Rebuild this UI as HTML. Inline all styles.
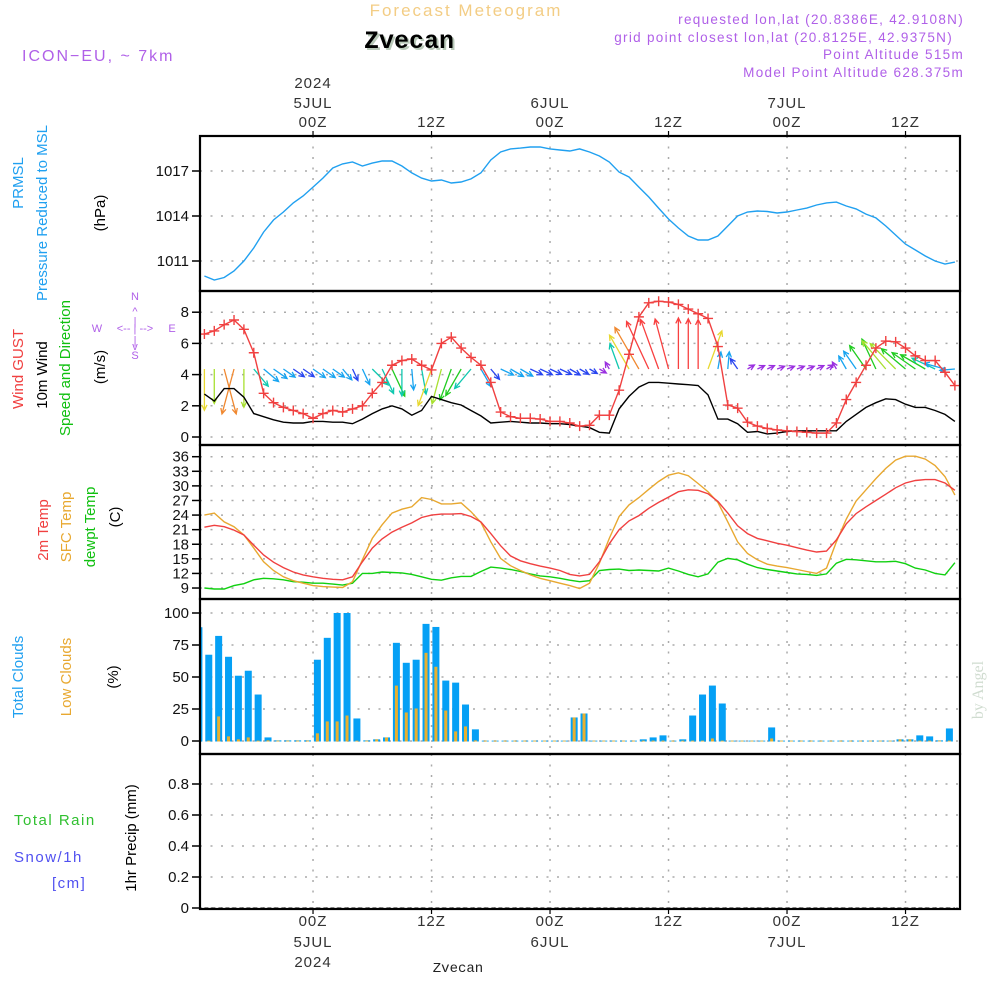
<!DOCTYPE html>
<html><head><meta charset="utf-8"><style>
html,body{margin:0;padding:0;background:#fff;}
svg{display:block;font-family:"Liberation Sans",sans-serif;}
.tk{font-size:15px;fill:#111;text-anchor:end;}
.tl{font-size:15px;fill:#333;text-anchor:middle;letter-spacing:1px;}
.mono{font-family:"Liberation Mono",monospace;}
.serif{font-family:"Liberation Serif",serif;}
</style></head><body>
<svg id="chart" width="1000" height="1000" viewBox="0 0 1000 1000" xmlns="http://www.w3.org/2000/svg">
<defs>
<clipPath id="cp1"><rect x="200" y="136" width="760" height="155"/></clipPath>
<clipPath id="cp2"><rect x="200" y="291" width="760" height="154"/></clipPath>
<clipPath id="cp3"><rect x="200" y="445" width="760" height="154"/></clipPath>
<clipPath id="cp4"><rect x="200" y="599" width="760" height="155"/></clipPath>
</defs>
<text x="466" y="16" font-size="17" fill="#f3cd85" text-anchor="middle" letter-spacing="2">Forecast Meteogram</text>
<text class="mono" x="411" y="50" font-size="25" font-weight="bold" fill="#b9c9b9" text-anchor="middle">Zvecan</text>
<text class="mono" x="409" y="48" font-size="25" font-weight="bold" fill="#000" text-anchor="middle">Zvecan</text>
<text x="22" y="61" font-size="16" fill="#b060e8" letter-spacing="2">ICON−EU, ~ 7km</text>
<g font-size="13.5" fill="#b060e8" text-anchor="end" letter-spacing="1.3">
<text x="964" y="24">requested lon,lat (20.8386E, 42.9108N)</text>
<text x="953" y="42">grid point closest lon,lat (20.8125E, 42.9375N)</text>
<text x="964" y="59">Point Altitude 515m</text>
<text x="964" y="77">Model Point Altitude 628.375m</text>
</g>
<g font-size="15">
<text transform="translate(23,183) rotate(-90)" fill="#20a0f0" text-anchor="middle">PRMSL</text>
<text transform="translate(47,213) rotate(-90)" fill="#20a0f0" text-anchor="middle">Pressure Reduced to MSL</text>
<text transform="translate(105,213) rotate(-90)" fill="#000" text-anchor="middle">(hPa)</text>
<text transform="translate(23,369) rotate(-90)" fill="#f04040" text-anchor="middle">Wind GUST</text>
<text transform="translate(47,375) rotate(-90)" fill="#000" text-anchor="middle">10m Wind</text>
<text transform="translate(70,368) rotate(-90)" fill="#10c010" text-anchor="middle">Speed and Direction</text>
<text transform="translate(105,367) rotate(-90)" fill="#000" text-anchor="middle">(m/s)</text>
<text transform="translate(48,530) rotate(-90)" fill="#f04040" text-anchor="middle">2m Temp</text>
<text transform="translate(71,527) rotate(-90)" fill="#e8a830" text-anchor="middle">SFC Temp</text>
<text transform="translate(95,527) rotate(-90)" fill="#10c010" text-anchor="middle">dewpt Temp</text>
<text transform="translate(120,517) rotate(-90)" fill="#000" text-anchor="middle">(C)</text>
<text transform="translate(23,677) rotate(-90)" fill="#20a0f0" text-anchor="middle">Total Clouds</text>
<text transform="translate(71,677) rotate(-90)" fill="#e8a830" text-anchor="middle">Low Clouds</text>
<text transform="translate(118,677) rotate(-90)" fill="#000" text-anchor="middle">(%)</text>
<text transform="translate(136,838) rotate(-90)" fill="#000" text-anchor="middle">1hr Precip (mm)</text>
<text x="14" y="825" fill="#30c030" letter-spacing="1.5">Total   Rain</text>
<text x="14" y="862" fill="#5050f0" letter-spacing="1.5">Snow/1h</text>
<text x="52" y="888" fill="#5050f0" letter-spacing="1.5">[cm]</text>
</g>
<g fill="#b060e8" font-size="11" text-anchor="middle">
<text x="135" y="300">N</text><text x="135" y="315">^</text><text x="135" y="325">|</text>
<text x="97" y="332">W</text><text x="135" y="332">&lt;-- | --&gt;</text><text x="172" y="332">E</text>
<text x="135" y="344">|</text><text x="135" y="350">v</text><text x="135" y="359">S</text>
</g>
<text class="serif" transform="translate(983,690) rotate(-90)" font-size="16" fill="#d0dcd0" text-anchor="middle">by Angel</text>
<text class="mono" x="458" y="972" font-size="14" fill="#222" text-anchor="middle">Zvecan</text>
<g id="g"></g>
</svg>
<script>
const pressure=[1010.0,1009.73,1009.9,1010.33,1011.0,1011.87,1012.93,1013.73,1014.27,1014.87,1015.33,1015.93,1016.53,1017.2,1017.47,1017.6,1017.33,1017.53,1017.67,1017.67,1017.33,1016.87,1016.53,1016.33,1016.4,1016.2,1016.27,1016.47,1016.87,1017.73,1018.27,1018.47,1018.53,1018.6,1018.6,1018.47,1018.4,1018.33,1018.47,1018.27,1018.0,1017.6,1016.93,1016.6,1015.93,1015.27,1014.53,1013.8,1013.2,1012.67,1012.4,1012.4,1012.67,1013.33,1014.0,1014.27,1014.33,1014.3,1014.2,1014.27,1014.4,1014.53,1014.73,1014.87,1014.93,1014.67,1014.47,1014.13,1013.87,1013.33,1012.73,1012.13,1011.73,1011.33,1011.0,1010.8,1010.93];
const gust=[6.6,6.8,7.2,7.5,6.9,5.4,2.8,2.2,1.9,1.7,1.5,1.2,1.5,1.7,1.6,1.8,2.0,2.8,3.5,4.6,4.9,5.0,4.6,4.3,6.0,6.4,5.7,5.1,4.6,3.5,1.6,1.3,1.2,1.2,1.15,1.0,1.0,0.9,0.7,0.75,1.4,1.4,3.0,5.3,7.7,8.6,8.7,8.65,8.5,8.2,7.9,7.6,5.8,2.05,1.85,0.95,0.7,0.55,0.45,0.4,0.35,0.3,0.25,0.25,0.9,2.4,3.5,4.6,5.7,6.15,6.1,5.7,5.2,4.9,4.9,4.15,3.3];
const windSpeed=[2.75,2.3,3.1,3.1,2.55,1.5,1.3,1.1,0.95,0.9,0.9,1.0,1.0,0.95,0.95,0.85,1.15,1.5,1.8,2.0,1.8,1.4,1.7,2.6,2.4,2.2,2.05,1.7,1.35,0.9,0.95,1.0,0.95,0.9,0.9,0.85,0.85,0.8,0.7,0.6,0.3,0.25,1.8,2.6,3.2,3.5,3.5,3.45,3.4,3.35,3.3,2.7,1.15,1.15,0.85,0.3,0.35,0.2,0.25,0.35,0.4,0.4,0.4,0.4,0.4,1.0,1.45,1.9,2.2,2.45,2.4,2.1,1.9,1.9,1.7,1.45,1.0];
const windDir=[0,0,345,15,0,320,310,305,305,305,305,305,305,305,320,335,335,315,335,335,0,355,350,20,15,20,30,40,330,320,295,300,300,295,295,295,295,300,300,300,300,150,160,150,150,155,160,165,180,180,180,200,190,185,145,240,245,245,250,250,250,250,245,240,150,150,145,145,155,140,135,130,125,120,115,105,85];
const temp2m=[21.5,21.9,21.6,20.9,19.9,17.8,15.8,14.3,13.2,12.3,11.7,11.3,11.0,10.8,10.7,11.3,14.4,17.2,19.1,20.5,21.5,22.4,23.5,24.0,24.2,24.2,24.3,23.7,22.6,20.2,17.7,15.6,14.6,14.0,13.5,13.1,12.6,11.8,11.5,11.8,14.4,18.1,21.0,22.8,23.9,25.4,26.6,27.7,28.8,29.2,29.1,28.4,26.8,24.4,21.8,20.2,19.2,18.7,18.2,17.8,17.3,16.8,16.4,16.6,18.9,22.2,24.3,25.7,27.0,28.3,29.6,30.6,31.1,31.3,31.3,30.6,29.1];
const tempSfc=[24.0,24.4,22.6,21.6,19.9,17.2,14.4,12.6,11.3,10.5,10.0,9.5,9.3,9.2,9.1,10.3,14.8,19.2,22.0,24.4,25.2,25.7,27.6,27.2,26.3,26.3,26.5,24.7,22.5,18.5,15.1,13.6,12.6,11.7,11.0,10.5,10.0,9.5,8.9,10.0,14.1,19.2,23.7,26.1,27.6,29.3,30.9,32.2,32.7,32.1,30.5,28.8,26.6,22.6,18.5,16.1,14.8,13.9,13.5,13.2,12.8,12.4,12.0,13.1,18.5,23.2,26.9,29.2,31.5,33.6,35.3,36.1,36.1,35.5,34.2,31.9,28.1];
const dewpt=[9.0,8.8,8.8,9.5,9.9,10.7,11.0,10.9,10.7,10.3,10.2,10.0,10.0,9.8,9.6,10.0,12.0,12.0,12.3,12.2,12.1,11.8,11.3,10.8,10.6,11.1,11.4,11.4,12.4,13.3,13.1,12.8,12.4,11.9,11.5,11.3,11.0,10.6,10.3,10.5,12.6,12.8,12.9,12.6,12.7,12.6,12.5,13.1,12.5,11.8,11.3,11.9,14.3,15.1,14.8,13.9,13.2,12.8,12.5,12.2,11.9,11.8,11.6,11.9,14.1,14.9,14.8,14.6,14.4,14.4,14.5,14.0,13.1,12.7,12.0,11.7,14.2];
const totalClouds=[88.9,67.4,82.1,65.8,51,54.9,36.3,2.8,0.5,0.5,0.5,0.5,63.5,80.6,100,100,17.6,0.5,1.3,2.8,76.7,61.1,63.5,91.5,89.1,47.2,45.6,28.5,9.1,0.3,0.3,0.3,0.3,0.3,0.3,0.3,0.3,0.3,18.4,21.5,0.3,0.3,0.3,0.3,0.3,1.3,2.8,4.4,0.3,1.3,19.9,36.3,43.3,29.3,0.3,0.3,0.3,0.3,10.6,0.3,0.3,0.3,0.3,0.3,0.3,0.3,0.3,0.3,0.3,0.3,0.3,1.3,1.3,4.4,3.6,0.5,9.8];
const lowClouds=[16.8,0.3,19.2,3.6,1.3,2.8,0.3,0.5,0.3,0.3,0.3,0.3,6,15.3,15.3,19.9,0.3,0.3,1.3,2.8,43.3,22.3,25.4,68.9,58,23.8,7.5,11.4,0.5,0.3,0.3,0.3,0.3,0.3,0.3,0.3,0.3,0.3,18.4,21.5,0.3,0.3,0.3,0.3,0.3,0.3,0.3,0.3,0.3,0.3,0.3,0.3,2,0.3,0.3,0.3,0.3,0.3,2,0.3,0.3,0.3,0.3,0.3,0.3,0.3,0.3,0.3,0.3,0.3,0.3,1.3,1.3,0.3,0.3,0.3,0.3];
const precip=[0,0,0,0,0,0,0,0,0,0,0,0,0,0,0,0,0,0,0,0,0,0,0,0,0,0,0,0,0,0,0,0,0,0,0,0,0,0,0,0,0,0,0,0,0,0,0,0,0,0,0,0,0,0,0,0,0,0,0,0,0,0,0,0,0,0,0,0,0,0,0,0,0,0,0,0,0];
const pressTicks=[1011,1014,1017];
const windTicks=[0,2,4,6,8];
const tempTicks=[9,12,15,18,21,24,27,30,33,36];
const cloudTicks=[0,25,50,75,100];
const precipTicks=[0,0.2,0.4,0.6,0.8];
const timeHours=[11,23,35,47,59,71];
const timeTop=[["2024","5JUL","00Z"],["","","12Z"],["","6JUL","00Z"],["","","12Z"],["","7JUL","00Z"],["","","12Z"]];
const timeBot=[["00Z","5JUL","2024"],["12Z","",""],["00Z","6JUL",""],["12Z","",""],["00Z","7JUL",""],["12Z","",""]];

const NS="http://www.w3.org/2000/svg";
const G=document.getElementById('g');
function mk(tag,attrs,parent){const e=document.createElementNS(NS,tag);for(const k in attrs)e.setAttribute(k,attrs[k]);(parent||G).appendChild(e);return e;}
const X=h=>204.4+9.875*h;
const yP=v=>171+(1017-v)*15;
const yW=v=>437-v*15.6;
const yT=v=>456.7+(36-v)*4.864;
const yC=v=>741-v*1.28;
const yR=v=>908-v*155;
const panels=[[136,291,pressTicks,yP,'pressure'],[291,445,windTicks,yW,'wind'],[445,599,tempTicks,yT,'temp'],[599,754,cloudTicks,yC,'cloud'],[754,909,precipTicks,yR,'precip']];

panels.forEach(p=>{
  const [top,bot,ticks,f,nm]=p;
  ticks.forEach(t=>{
    const y=f(t);
    const gl=mk('line',{x1:200,x2:960,y1:y,y2:y,stroke:'#aaa','stroke-width':1.5,'stroke-dasharray':'2,8.5'});
    
    
    const tk=mk('line',{x1:192,x2:200,y1:y,y2:y,stroke:'#000','stroke-width':1.5});
    
    
    const tx=mk('text',{x:189,y:y+5,'class':'tk'});
    tx.textContent=(nm==='precip'&&t>0)?t.toFixed(1):String(t);
    
    
  });
  timeHours.forEach(h=>{
    const vl=mk('line',{x1:X(h),x2:X(h),y1:top,y2:bot,stroke:'#aaa','stroke-width':1.5,'stroke-dasharray':'2,8.5'});
    
    
  });
});
function line(arr,f,color,nm,clip,w){
  const d=arr.map((v,i)=>(i?'L':'M')+X(i).toFixed(1)+','+f(v).toFixed(1)).join('');
  const p=mk('path',{d:d,fill:'none',stroke:color,'stroke-width':w||1.4,'clip-path':'url(#'+clip+')'});
  
  
  return p;
}
line(pressure,yP,'#20a0f0','pressure-line','cp1');
function spdColor(s){
  if(s<0.6)return '#9a30e0';if(s<0.95)return '#2845f0';if(s<1.5)return '#18a4f0';if(s<1.9)return '#10c8b0';
  if(s<2.3)return '#20cc20';if(s<2.6)return '#a8e030';if(s<3.0)return '#e8d830';if(s<3.3)return '#f08830';return '#f84040';}
windSpeed.forEach((s,i)=>{
  const a=windDir[i]*Math.PI/180;
  const L=Math.max(s*15,8);
  const x0=X(i),y0=369;
  const dx=-Math.sin(a)*L, dy=Math.cos(a)*L;
  const x1=x0+dx,y1=y0+dy;
  const c=spdColor(s);
  const ang=Math.atan2(dy,dx);
  const hl=6;
  const d='M'+x0+','+y0+'L'+x1+','+y1+'M'+(x1-hl*Math.cos(ang-0.45))+','+(y1-hl*Math.sin(ang-0.45))+'L'+x1+','+y1+'L'+(x1-hl*Math.cos(ang+0.45))+','+(y1-hl*Math.sin(ang+0.45));
  const p=mk('path',{d:d,fill:'none',stroke:c,'stroke-width':1.3,'clip-path':'url(#cp2)'});
  
  
});
line(windSpeed,yW,'#000','wind-speed-line','cp2');
line(gust,yW,'#f04040','wind-gust-line','cp2');
gust.forEach((v,i)=>{
  const x=X(i),y=yW(v);
  const m=mk('path',{d:'M'+(x-5)+','+y+'H'+(x+5)+'M'+x+','+(y-5)+'V'+(y+5),stroke:'#f04040','stroke-width':1.4,'clip-path':'url(#cp2)'});
  
  
});
line(dewpt,yT,'#10d010','dewpoint-line','cp3');
line(tempSfc,yT,'#e8a830','sfc-temp-line','cp3');
line(temp2m,yT,'#f04040','temp-2m-line','cp3');
totalClouds.forEach((v,i)=>{
  const cx=X(i)-5.5;
  const b=mk('rect',{x:cx-3.5,y:yC(v),width:7,height:741-yC(v)+0.5,fill:'#05a0f5','clip-path':'url(#cp4)'});
  
  
});
lowClouds.forEach((v,i)=>{
  const cx=X(i)-5.5;
  const b=mk('rect',{x:cx-1.5,y:yC(v),width:3,height:741-yC(v)+0.5,fill:'#e8b030','clip-path':'url(#cp4)'});
  
  
});
const pl=line(precip,yR,'#000','precip-line','cp4',1);
pl.setAttribute('stroke-dasharray','4,3');
pl.removeAttribute('clip-path');
panels.forEach(p=>{
  const r=mk('rect',{x:200,y:p[0],width:760,height:p[1]-p[0],fill:'none',stroke:'#000','stroke-width':2.2});
  
  
});
timeHours.forEach((h,k)=>{
  const x=X(h);
  const t1=mk('line',{x1:x,x2:x,y1:131,y2:136,stroke:'#000','stroke-width':1.2});
  
  
  const t2=mk('line',{x1:x,x2:x,y1:909,y2:914,stroke:'#000','stroke-width':1.2});
  
  
  [88,108,127].forEach((y,j)=>{ if(timeTop[k][j]){
    const t=mk('text',{x:x,y:y,'class':'tl'});t.textContent=timeTop[k][j];
    
    }});
  [926,947,967].forEach((y,j)=>{ if(timeBot[k][j]){
    const t=mk('text',{x:x,y:y,'class':'tl'});t.textContent=timeBot[k][j];
    
    }});
});
</script>
</body></html>
